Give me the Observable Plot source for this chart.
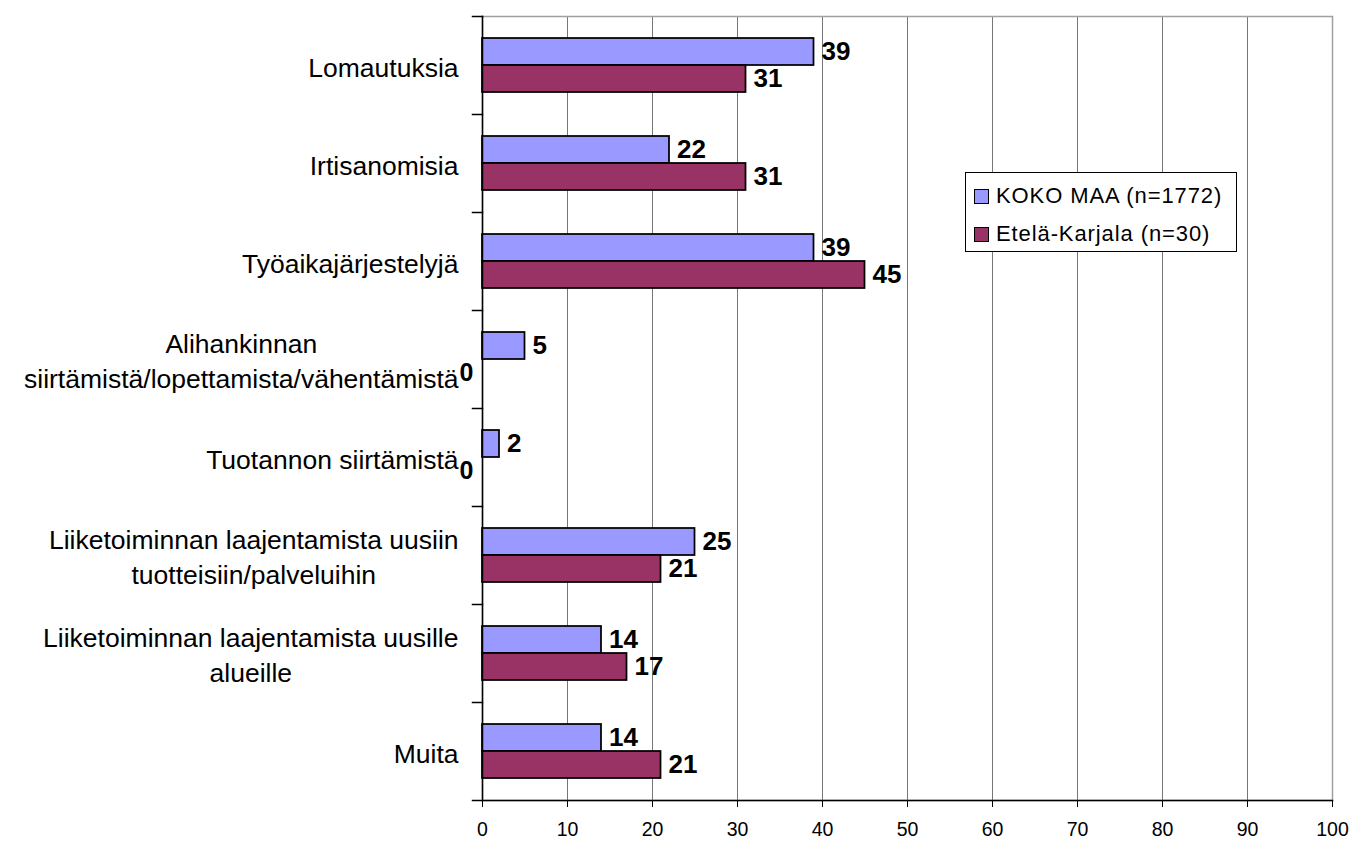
<!DOCTYPE html>
<html><head><meta charset="utf-8">
<script src="https://cdn.jsdelivr.net/npm/d3@7"></script>
<script src="https://cdn.jsdelivr.net/npm/@observablehq/plot@0.6"></script>
<style>
body{margin:0;background:#fff;font-family:"Liberation Sans",Arial,sans-serif;}
#wrap{position:relative;width:1352px;height:842px;}
#legend{position:absolute;left:965px;top:172px;width:270px;height:78px;border:1px solid #000;background:#fff;}
.item{position:absolute;left:8px;display:flex;align-items:center;font-size:22px;letter-spacing:0.9px;line-height:1;color:#000;}
.sw{width:15px;height:15px;border:1px solid #000;margin-right:7px;box-sizing:border-box;}
</style></head><body><div id="wrap"></div>
<script>
const categories = [
  "Lomautuksia",
  "Irtisanomisia",
  "Työaikajärjestelyjä",
  "Alihankinnan\nsiirtämistä/lopettamista/vähentämistä",
  "Tuotannon siirtämistä",
  "Liiketoiminnan laajentamista uusiin\ntuotteisiin/palveluihin",
  "Liiketoiminnan laajentamista uusille\nalueille",
  "Muita"
];
const seriesNames = ["KOKO MAA (n=1772)", "Etelä-Karjala (n=30)"];
const kokoMaa = [39, 22, 39, 5, 2, 25, 14, 14];
const etelaKarjala = [31, 31, 45, 0, 0, 21, 17, 21];
const seriesColors = ["#9999FF", "#993366"];
const xTicks = [0, 10, 20, 30, 40, 50, 60, 70, 80, 90, 100];

const data = categories.flatMap((c, i) => [
  {category: c, series: seriesNames[0], value: kokoMaa[i]},
  {category: c, series: seriesNames[1], value: etelaKarjala[i]}
]);

const FONT = "'Liberation Sans', Arial, sans-serif";
const W = 1352, H = 842, ML = 482, MR = 20, MT = 13, MB = 39;
const plotW = W - ML - MR;
const LABEL_SIZE = 26.5;

const ctx = document.createElement("canvas").getContext("2d");
ctx.font = LABEL_SIZE + "px 'Liberation Sans'";
const labelWidth = (s) => Math.max(...s.split("\n").map(l => ctx.measureText(l).width));

const labelMarks = categories.map(c => Plot.text([c], {
  fy: d => d, text: d => d, frameAnchor: "left", textAnchor: "middle",
  dx: -(24 + labelWidth(c) / 2), lineHeight: 1.32, fontSize: LABEL_SIZE, fill: "#000"
}));

const chart = Plot.plot({
  width: W, height: H,
  marginLeft: ML, marginRight: MR, marginTop: MT, marginBottom: MB,
  style: {fontFamily: FONT, background: "#fff", color: "#000", overflow: "visible"},
  x: {domain: [0, 100]},
  fy: {domain: categories, padding: 0, axis: null, label: null},
  y: {domain: seriesNames, paddingInner: 0, paddingOuter: 0.76, axis: null, label: null},
  color: {domain: seriesNames, range: seriesColors},
  marks: [
    Plot.ruleX(xTicks.filter(t => t > 0 && t < 100), {stroke: "#777", strokeWidth: 1}),
    Plot.frame({facet: "super", stroke: "#a0a0a0", strokeWidth: 1.5}),
    Plot.barX(data, {fy: "category", y: "series", x: "value", fill: "series", stroke: "#000", strokeWidth: 1.75}),
    Plot.frame({facet: "super", anchor: "left", stroke: "#000", strokeWidth: 1.5}),
    Plot.frame({facet: "super", anchor: "bottom", stroke: "#000", strokeWidth: 1.5, insetLeft: -10}),
    Plot.frame({anchor: "top", stroke: "#000", strokeWidth: 1.5, insetLeft: -10, insetRight: plotW}),
    Plot.axisX({ticks: xTicks, tickSize: 7, tickPadding: 15, fontSize: 19.5, label: null, stroke: "#000", fill: "#000"}),
    Plot.text(data.filter(d => d.value > 0), {fy: "category", y: "series", x: "value", text: "value",
      textAnchor: "start", dx: 7.5, fontSize: 26, fontWeight: "bold", fill: "#000"}),
    Plot.text(data.filter(d => d.value === 0), {fy: "category", y: "series", x: "value", text: "value",
      textAnchor: "end", dx: -9, fontSize: 25, fontWeight: "bold", fill: "#000"}),
    ...labelMarks
  ]
});

const wrap = document.getElementById("wrap");
wrap.appendChild(chart);

const legend = document.createElement("div");
legend.id = "legend";
seriesNames.forEach((name, i) => {
  const item = document.createElement("div");
  item.className = "item";
  item.style.top = (i === 0 ? 12 : 50) + "px";
  const sw = document.createElement("div");
  sw.className = "sw";
  sw.style.background = seriesColors[i];
  const t = document.createElement("span");
  t.textContent = name;
  item.appendChild(sw);
  item.appendChild(t);
  legend.appendChild(item);
});
wrap.appendChild(legend);
</script>
</body></html>
